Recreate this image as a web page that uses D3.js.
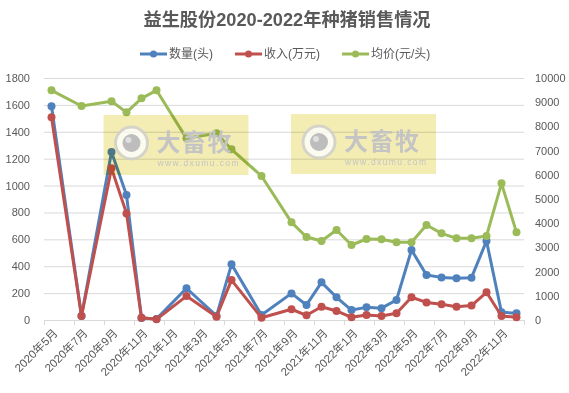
<!DOCTYPE html>
<html><head><meta charset="utf-8">
<script src="https://cdn.jsdelivr.net/npm/d3@7/dist/d3.min.js"></script>
<style>
html,body{margin:0;padding:0;background:#fff;}
svg{display:block;font-family:"Liberation Sans","Noto Sans CJK SC",sans-serif;}
</style></head>
<body><svg id="c" width="569" height="393"></svg>
<script>
const title = "益生股份2020-2022年种猪销售情况";
const seriesNames = ["数量(头)", "收入(万元)", "均价(元/头)"];
const seriesColors = ["#4F81BD", "#C0504D", "#9BBB59"];
const months = ["2020-05","2020-07","2020-09","2020-10","2020-11","2020-12","2021-02","2021-04","2021-05","2021-07","2021-09","2021-10","2021-11","2021-12","2022-01","2022-02","2022-03","2022-04","2022-05","2022-06","2022-07","2022-08","2022-09","2022-10","2022-11","2022-12"];
const quantity = [1590, 30, 1250, 930, 15, 8, 236, 30, 414, 37, 198, 112, 280, 169, 74, 94, 88, 149, 521, 335, 317, 310, 315, 588, 57, 50];
const revenue  = [1508, 30, 1128, 793, 17, 5, 178, 25, 297, 17, 80, 35, 99, 67, 20, 37, 30, 50, 169, 131, 117, 99, 107, 206, 30, 20];
const price    = [9491, 8842, 9036, 8581, 9160, 9491, 7507, 7713, 7052, 5950, 4036, 3430, 3264, 3719, 3099, 3347, 3333, 3209, 3209, 3925, 3581, 3375, 3375, 3471, 5647, 3623];
const xTickLabels = ["2020年5月","2020年7月","2020年9月","2020年11月","2021年1月","2021年3月","2021年5月","2021年7月","2021年9月","2021年11月","2022年1月","2022年3月","2022年5月","2022年7月","2022年9月","2022年11月"];
const leftTicks = [0,200,400,600,800,1000,1200,1400,1600,1800];
const rightTicks = [0,1000,2000,3000,4000,5000,6000,7000,8000,9000,10000];

const svg = d3.select("#c");
const L = 44, R = 524, T = 78, B = 320;
const textColor = "#595959";
const gridColor = "#d9d9d9";

// full month domain for the date axis
const fmt = d3.timeFormat("%Y-%m");
const allMonths = d3.timeMonth.range(new Date(2020,4,1), new Date(2023,0,1)).map(fmt);
const x = d3.scaleBand().domain(allMonths).range([L, R]).padding(0);
const cx = m => x(m) + x.bandwidth()/2;
const yL = d3.scaleLinear().domain([0,1800]).range([B, T]);
const yR = d3.scaleLinear().domain([0,10000]).range([B, T]);

// title
svg.append("text").attr("x", 287).attr("y", 26).attr("text-anchor","middle")
  .attr("font-size", 18.2).attr("font-weight","bold").attr("fill", textColor).text(title);

// legend
const legX = [140, 235, 342];
seriesNames.forEach((n,i)=>{
  const g = svg.append("g").attr("transform", `translate(${legX[i]},54)`);
  g.append("line").attr("x1",0).attr("x2",27).attr("stroke",seriesColors[i]).attr("stroke-width",3);
  g.append("circle").attr("cx",13.5).attr("r",3.5).attr("fill",seriesColors[i]);
  g.append("text").attr("x",29).attr("dy","0.36em").attr("font-size",12).attr("fill",textColor).text(n);
});

// gridlines
svg.append("g").selectAll("line").data(leftTicks).join("line")
  .attr("x1", L).attr("x2", R).attr("y1", d=>yL(d)+0.5).attr("y2", d=>yL(d)+0.5)
  .attr("stroke", gridColor).attr("stroke-width",1);

// left axis
const axL = svg.append("g").attr("transform", `translate(${L},0)`)
  .call(d3.axisLeft(yL).tickValues(leftTicks).tickFormat(d3.format("d")).tickSize(0).tickPadding(14));
axL.select(".domain").remove();
axL.selectAll("text").attr("font-size",11).attr("fill",textColor).attr("font-family","Liberation Sans, sans-serif");

// right axis
const axR = svg.append("g").attr("transform", `translate(${R},0)`)
  .call(d3.axisRight(yR).tickValues(rightTicks).tickFormat(d3.format("d")).tickSize(0).tickPadding(11));
axR.select(".domain").remove();
axR.selectAll("text").attr("font-size",11).attr("fill",textColor).attr("font-family","Liberation Sans, sans-serif");

// x axis
const labeled = allMonths.filter((m,i)=> i%2===0);
const tickPos = labeled.map(m=>x(m)).concat([R]);
svg.append("g").selectAll("line").data(tickPos).join("line")
  .attr("x1", d=>d+0.5).attr("x2", d=>d+0.5).attr("y1", B).attr("y2", B+5)
  .attr("stroke", gridColor);
svg.append("g").selectAll("text").data(labeled).join("text")
  .attr("transform", m=>`translate(${cx(m)+4},${B+11}) rotate(-45)`)
  .attr("text-anchor","end").attr("dy","0.35em")
  .attr("font-size",11.5).attr("fill",textColor)
  .text((m,i)=>xTickLabels[i]);

// series
const series = [
  {vals: quantity, y: yL, color: seriesColors[0]},
  {vals: revenue,  y: yL, color: seriesColors[1]},
  {vals: price,    y: yR, color: seriesColors[2]}
];
series.forEach(s=>{
  const pts = months.map((m,i)=>[cx(m), s.y(s.vals[i])]);
  svg.append("path").attr("d", d3.line()(pts)).attr("fill","none")
    .attr("stroke", s.color).attr("stroke-width",3).attr("stroke-linejoin","round");
  svg.append("g").selectAll("circle").data(pts).join("circle")
    .attr("cx", d=>d[0]).attr("cy", d=>d[1]).attr("r",4).attr("fill", s.color);
});

// watermarks
function watermark(x0, y0){
  const g = svg.append("g").attr("transform",`translate(${x0},${y0})`);
  g.append("rect").attr("width",145).attr("height",60).attr("fill","#f3eaa6")
    .style("mix-blend-mode","multiply").attr("opacity",0.85);
  g.append("circle").attr("cx",28).attr("cy",28).attr("r",16).attr("fill","#fff")
    .attr("stroke","#cfcfcf").attr("stroke-width",3).attr("opacity",0.8);
  g.append("circle").attr("cx",28).attr("cy",28).attr("r",9).attr("fill","#bdbdbd");
  g.append("circle").attr("cx",25).attr("cy",25).attr("r",3).attr("fill","#e0e0e0");
  g.append("text").attr("x",53).attr("y",36).attr("font-size",24).attr("font-weight","bold")
    .attr("font-family","Noto Sans CJK SC, sans-serif").attr("fill","#c4c4c4").attr("letter-spacing",1.5).text("大畜牧");
  g.append("text").attr("x",54).attr("y",51).attr("font-size",8.5).attr("fill","#c4c4c4")
    .attr("letter-spacing",1.4).text("www.dxumu.com");
}
watermark(103.5, 115);
watermark(291, 114);
</script></body></html>
